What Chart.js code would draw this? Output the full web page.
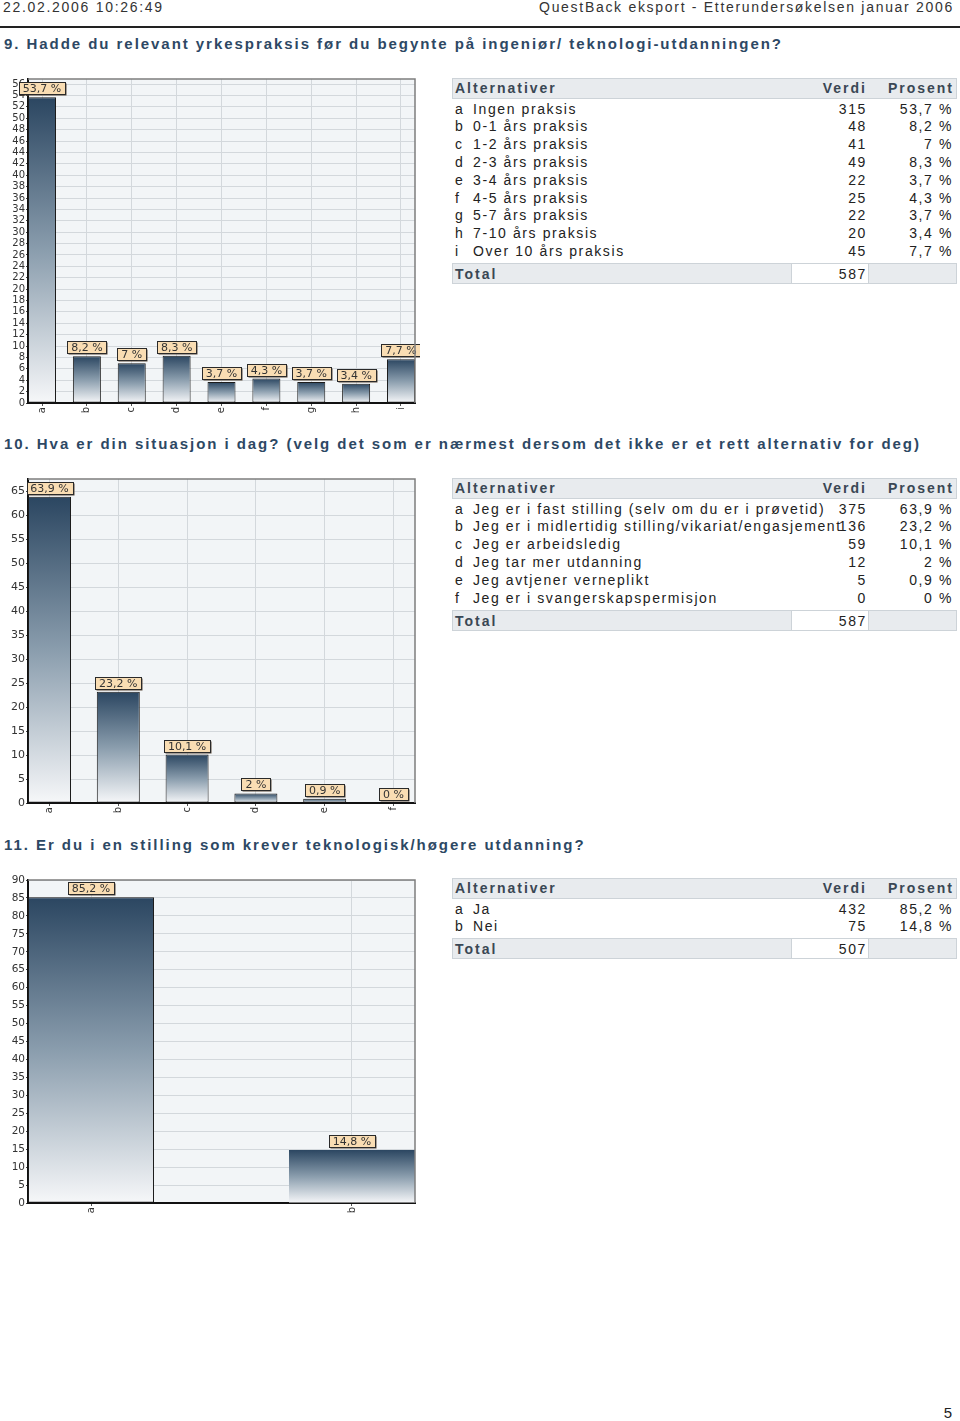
<!DOCTYPE html>
<html><head><meta charset="utf-8">
<script src="https://cdn.jsdelivr.net/npm/chart.js@4/dist/chart.umd.min.js"></script>
<style>
body{margin:0;width:960px;height:1421px;position:relative;background:#fff;font-family:"Liberation Sans",Arial,sans-serif;overflow:hidden}
.abs{position:absolute;white-space:nowrap}
.hdr{font-family:"Liberation Sans",Arial,sans-serif;font-size:14px;letter-spacing:1.7px;color:#333;top:-1px;line-height:16px}
.rule{position:absolute;left:0;width:960px;top:26px;height:2px;background:#222}
.title{font-weight:bold;font-size:15px;letter-spacing:1.95px;color:#2d4864;left:4px;line-height:18px}
.tbl{position:absolute;left:452px;width:505px;font-size:14px;letter-spacing:1.6px;color:#222}
.tbl .bar{position:absolute;left:0;width:503px;height:19px;background:#e8ebee;border:1px solid #cdd3d8}
.tbl .cell{position:absolute;white-space:nowrap;line-height:18px}
.tbl .hd{font-weight:bold;color:#3a4754;letter-spacing:2px}
.tbl .vbox{position:absolute;left:339px;width:76px;height:19px;background:#fff;border-left:1px solid #cdd3d8;border-right:1px solid #cdd3d8}
canvas{position:absolute;left:0}
</style>
</head><body>
<div class="abs hdr" style="left:3px">22.02.2006 10:26:49</div>
<div class="abs hdr" style="right:6px">QuestBack eksport - Etterundersøkelsen januar 2006</div>
<div class="rule"></div>
<div class="abs title" style="top:35px">9. Hadde du relevant yrkespraksis før du begynte på ingeniør/ teknologi-utdanningen?</div>
<div class="abs title" style="top:435px">10. Hva er din situasjon i dag? (velg det som er nærmest dersom det ikke er et rett alternativ for deg)</div>
<div class="abs title" style="top:836px">11. Er du i en stilling som krever teknologisk/høgere utdanning?</div>
<div class="abs" style="right:8px;top:1404px;font-size:15px;color:#222">5</div>

<canvas id="c1" width="420" height="350" style="top:70px"></canvas>
<canvas id="c2" width="420" height="350" style="top:470px"></canvas>
<canvas id="c3" width="420" height="352" style="top:870px"></canvas>

<script>
// ---- Data ----
const q9Letters = ['a','b','c','d','e','f','g','h','i'];
const q9Names = ['Ingen praksis','0-1 års praksis','1-2 års praksis','2-3 års praksis','3-4 års praksis','4-5 års praksis','5-7 års praksis','7-10 års praksis','Over 10 års praksis'];
const q9Counts = [315,48,41,49,22,25,22,20,45];
const q9Pcts = [53.7,8.2,7,8.3,3.7,4.3,3.7,3.4,7.7];
const q9Total = 587;

const q10Letters = ['a','b','c','d','e','f'];
const q10Names = ['Jeg er i fast stilling (selv om du er i prøvetid)','Jeg er i midlertidig stilling/vikariat/engasjement','Jeg er arbeidsledig','Jeg tar mer utdanning','Jeg avtjener verneplikt','Jeg er i svangerskapspermisjon'];
const q10Counts = [375,136,59,12,5,0];
const q10Pcts = [63.9,23.2,10.1,2,0.9,0];
const q10Total = 587;

const q11Letters = ['a','b'];
const q11Names = ['Ja','Nei'];
const q11Counts = [432,75];
const q11Pcts = [85.2,14.8];
const q11Total = 507;

const tableHeader = ['Alternativer','Verdi','Prosent'];
const totalLabel = 'Total';

// ---- Tables ----
function fmtPct(v){ return String(v).replace('.', ',') + ' %'; }
function cell(parent, text, top, left, right, cls){
  const d = document.createElement('div');
  d.className = 'cell' + (cls ? ' ' + cls : '');
  d.textContent = text;
  d.style.top = top + 'px';
  if (left != null) d.style.left = left + 'px';
  if (right != null) { d.style.right = right + 'px'; }
  parent.appendChild(d);
}
function buildTable(top, letters, names, counts, pcts, total){
  const t = document.createElement('div');
  t.className = 'tbl';
  t.style.top = top + 'px';
  document.body.appendChild(t);
  const hb = document.createElement('div'); hb.className = 'bar'; hb.style.top = '0px'; t.appendChild(hb);
  cell(t, tableHeader[0], 1, 3, null, 'hd');
  cell(t, tableHeader[1], 1, null, 505 - 415, 'hd');
  cell(t, tableHeader[2], 1, null, 505 - 502, 'hd');
  const rowStep = 17.8;
  letters.forEach((l, i) => {
    const y = 30.5 + i * rowStep - 9;
    cell(t, l, y, 3);
    cell(t, names[i], y, 21);
    cell(t, String(counts[i]), y, null, 505 - 415);
    cell(t, fmtPct(pcts[i]), y, null, 505 - 501);
  });
  const tt = 30.5 + (letters.length - 1) * rowStep + 12;
  const tb = document.createElement('div'); tb.className = 'bar'; tb.style.top = tt + 'px'; t.appendChild(tb);
  const vb = document.createElement('div'); vb.className = 'vbox'; vb.style.top = (tt + 1) + 'px'; t.appendChild(vb);
  cell(t, totalLabel, tt + 2, 3, null, 'hd');
  cell(t, String(total), tt + 2, null, 505 - 415);
}
buildTable(78, q9Letters, q9Names, q9Counts, q9Pcts, q9Total);
buildTable(478, q10Letters, q10Names, q10Counts, q10Pcts, q10Total);
buildTable(878, q11Letters, q11Names, q11Counts, q11Pcts, q11Total);

// ---- Charts ----
const bgPlugin = {
  id: 'bgPlot',
  beforeDraw(chart){
    const {ctx, chartArea: a} = chart;
    ctx.save(); ctx.fillStyle = '#f2f5f7';
    ctx.fillRect(a.left, a.top, a.right - a.left, a.bottom - a.top);
    ctx.restore();
  },
  afterDraw(chart){
    const {ctx, chartArea: a} = chart;
    ctx.save(); ctx.strokeStyle = '#7d7d7d'; ctx.lineWidth = 1.5;
    ctx.beginPath(); ctx.moveTo(a.left, a.top); ctx.lineTo(a.right, a.top); ctx.lineTo(a.right, a.bottom); ctx.stroke();
    ctx.restore();
  }
};
const boxPlugin = {
  id: 'boxLabels',
  afterDatasetsDraw(chart){
    const {ctx} = chart;
    const meta = chart.getDatasetMeta(0);
    const pcts = chart.data.datasets[0].pcts;
    ctx.save();
    ctx.font = '11px "DejaVu Sans", Verdana, sans-serif';
    ctx.textAlign = 'center'; ctx.textBaseline = 'middle';
    meta.data.forEach((el, i) => {
      const txt = fmtPct(pcts[i]);
      const w = Math.round(ctx.measureText(txt).width + 8);
      const h = 12;
      const x = Math.round(el.x - w / 2) + 0.5;
      const y = Math.round(el.y - 3 - h) + 0.5;
      ctx.fillStyle = '#5a4a3a';
      ctx.fillRect(x + 1, y + 1, w, h);
      ctx.fillStyle = '#f9ddb3';
      ctx.fillRect(x, y, w, h);
      ctx.strokeStyle = '#2a2a2a'; ctx.lineWidth = 1;
      ctx.strokeRect(x, y, w, h);
      ctx.fillStyle = '#333';
      ctx.fillText(txt, el.x, y + h / 2 + 0.5);
    });
    ctx.restore();
  }
};

function gradFor(chart, v){
  const {ctx, scales, chartArea} = chart;
  if (!chartArea || !scales.y) return '#2c4862';
  const y0 = scales.y.getPixelForValue(0), y1 = scales.y.getPixelForValue(v);
  if (y0 - y1 < 2) return '#3b5670';
  const g = ctx.createLinearGradient(0, y1, 0, y0);
  g.addColorStop(0, '#2b4661');
  g.addColorStop(0.5, '#8a9dad');
  g.addColorStop(1, '#f6f7f9');
  return g;
}

function makeChart(id, letters, pcts, cfg){
  const data = pcts.map((v, i) => ({x: i, y: v}));
  return new Chart(document.getElementById(id), {
    type: 'bar',
    data: { datasets: [{
      data, pcts,
      backgroundColor: (c) => gradFor(c.chart, c.raw ? c.raw.y : 0),
      borderColor: '#1c1c1c',
      borderWidth: cfg.borderWidths || 1,
      borderSkipped: false,
      categoryPercentage: 1,
      barPercentage: cfg.half * 2
    }]},
    options: {
      responsive: false, animation: false, devicePixelRatio: 1,
      layout: { padding: { top: cfg.padTop, right: 5, left: 0, bottom: 0 } },
      plugins: { legend: {display: false}, tooltip: {enabled: false} },
      scales: {
        x: {
          type: 'linear', offset: false, min: -cfg.half, max: letters.length - 1 + cfg.half,
          afterFit(s){ s.height = cfg.xh; },
          border: { color: '#111', width: 2 },
          grid: { offset: false, color: '#d3d8dc', lineWidth: 1, tickLength: 3, tickColor: '#555' },
          ticks: {
            stepSize: 1, includeBounds: false, autoSkip: false, maxTicksLimit: 100,
            minRotation: 90, maxRotation: 90, padding: 1,
            color: '#333', font: { family: '"DejaVu Sans", Verdana, sans-serif', size: 10 },
            callback: (v) => (Number.isInteger(v) ? letters[v] : '')
          }
        },
        y: {
          min: 0, max: cfg.max,
          afterFit(s){ s.width = 28; },
          border: { color: '#111', width: 2 },
          grid: { color: '#d3d8dc', lineWidth: 1, tickLength: 2, tickColor: '#444' },
          ticks: {
            stepSize: cfg.step, includeBounds: false, autoSkip: false, maxTicksLimit: 200, padding: 1,
            color: '#333', font: { family: '"DejaVu Sans", Verdana, sans-serif', size: cfg.yfs }
          }
        }
      }
    },
    plugins: [bgPlugin, boxPlugin]
  });
}

makeChart('c1', q9Letters, q9Pcts, { half: 0.312, max: 56.9, step: 2, padTop: 9, xh: 17, yfs: 10 });
makeChart('c2', q10Letters, q10Pcts, { half: 0.3125, max: 67.6, step: 5, padTop: 9, xh: 17, yfs: 11 });
makeChart('c3', q11Letters, q11Pcts, { half: 0.2414, max: 90, step: 5, padTop: 10, xh: 19, yfs: 10.5, borderWidths: [1, 0] });
</script>
</body></html>
